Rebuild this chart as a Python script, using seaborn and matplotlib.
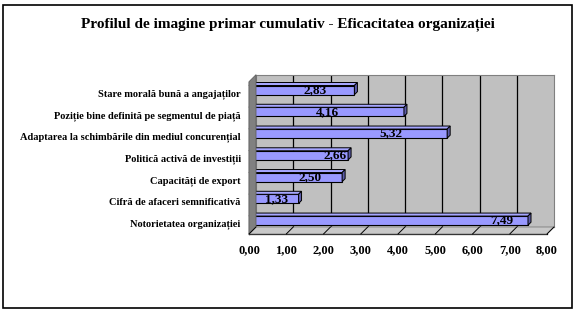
import matplotlib
matplotlib.use("Agg")
import matplotlib.pyplot as plt
import seaborn as sns
import pandas as pd
from matplotlib.patches import Polygon, Rectangle
from matplotlib.lines import Line2D

# ---- data ----
title = "Profilul de imagine primar cumulativ - Eficacitatea organizației"
categories = [
    "Stare morală bună a angajaților",
    "Poziție bine definită pe segmentul de piață",
    "Adaptarea la schimbările din mediul concurențial",
    "Politică activă de investiții",
    "Capacități de export",
    "Cifră de afaceri semnificativă",
    "Notorietatea organizației",
]
values = [2.83, 4.16, 5.32, 2.66, 2.50, 1.33, 7.49]
value_labels = ["2,83", "4,16", "5,32", "2,66", "2,50", "1,33", "7,49"]
x_ticks = [0, 1, 2, 3, 4, 5, 6, 7, 8]
x_tick_labels = ["0,00", "1,00", "2,00", "3,00", "4,00", "5,00", "6,00", "7,00", "8,00"]
# where Excel placed each value label along its bar (x, data units)
label_anchor = [1.77, 2.10, 3.82, 2.31, 1.64, 0.75, 6.80]

df = pd.DataFrame({"categorie": categories, "valoare": values})

sns.set_theme(style="white")
plt.rcParams["font.family"] = ["Liberation Serif", "DejaVu Serif"]
plt.rcParams["font.weight"] = "bold"

W, H = 576, 312
fig = plt.figure(figsize=(W / 100, H / 100), dpi=100)
fig.patch.set_facecolor("white")

# outer chart border
fig.add_artist(Rectangle((3 / W, 4 / H), 569 / W, 303 / H, transform=fig.transFigure,
                         fill=False, edgecolor="black", linewidth=1.2))

fig.text(0.5, 1 - 24 / H, title, ha="center", va="center",
         fontsize=11, fontweight="bold", color="black")

# front plane (in pixels)
Lp, Rp, Bp, Tp = 249, 547, H - 234, H - 81.7
D = 7  # 3D depth in pixels
L, R, B, T = Lp / W, Rp / W, Bp / H, Tp / H
dxf, dyf = D / W, D / H

# back wall
ax_wall = fig.add_axes([L + dxf, B + dyf, R - L, T - B])
ax_wall.set_facecolor("#C0C0C0")
ax_wall.set_xlim(0, 8)
ax_wall.set_ylim(0, 1)
for xv in x_ticks[1:-1]:
    ax_wall.axvline(xv, color="black", linewidth=0.9)
ax_wall.set_xticks([])
ax_wall.set_yticks([])
for s in ax_wall.spines.values():
    s.set_color("#808080")
    s.set_linewidth(0.8)

# side wall and floor
fig.add_artist(Polygon([(L, B), (L + dxf, B + dyf), (L + dxf, T + dyf), (L, T)],
                       closed=True, transform=fig.transFigure,
                       facecolor="#808080", edgecolor="#606060", linewidth=0.6))
fig.add_artist(Polygon([(L, B), (R, B), (R + dxf, B + dyf), (L + dxf, B + dyf)],
                       closed=True, transform=fig.transFigure,
                       facecolor="#C8C8C8", edgecolor="#808080", linewidth=0.6))
for xv in x_ticks:
    fx = L + (R - L) * xv / 8
    fig.add_artist(Line2D([fx, fx + dxf], [B, B + dyf], transform=fig.transFigure,
                          color="black", linewidth=0.7))

# main (front) axes
ax = fig.add_axes([L, B, R - L, T - B])
ax.set_facecolor("none")
sns.barplot(data=df, x="valoare", y="categorie", orient="h", color="#9999FF",
            saturation=1, edgecolor="black", linewidth=0.8, width=0.42, ax=ax,
            zorder=3)
ax.set_xlim(0, 8)
ax.set_ylim(len(categories) - 0.5, -0.5)

px_x = (Rp - Lp) / 8.0
px_y = (Tp - Bp) / len(categories)
bd = 3.0
ddx, ddy = bd / px_x, bd / px_y
shift = 2.5 / px_y

for i, p in enumerate(ax.patches):
    p.set_y(p.get_y() - shift)
    y0, h, v = p.get_y(), p.get_height(), p.get_width()
    ax.add_patch(Polygon([(0, y0), (v, y0), (v + ddx, y0 - ddy), (ddx, y0 - ddy)],
                         closed=True, facecolor="#A6A6FF", edgecolor="black",
                         linewidth=0.7, zorder=3, clip_on=False))
    ax.add_patch(Polygon([(v, y0), (v + ddx, y0 - ddy), (v + ddx, y0 + h - ddy), (v, y0 + h)],
                         closed=True, facecolor="#5C5CA8", edgecolor="black",
                         linewidth=0.7, zorder=3, clip_on=False))
    ax.text(label_anchor[i], y0 + h / 2, value_labels[i], ha="center", va="center",
            fontsize=9.5, fontweight="bold", color="black", zorder=5)

ax.set_xlabel("")
ax.set_ylabel("")
ax.set_xticks(x_ticks)
ax.set_xticklabels(x_tick_labels, fontsize=9, fontweight="bold")
ax.set_yticks(range(len(categories)))
ax.set_yticklabels(categories, fontsize=7.5, fontweight="bold")
ax.set_yticks([i - 0.5 for i in range(len(categories) + 1)], minor=True)
ax.tick_params(axis="y", which="major", length=0, pad=6, colors="black")
ax.tick_params(axis="y", which="minor", length=4, direction="out", color="black", width=0.8)
ax.tick_params(axis="x", which="major", length=3, direction="out", color="black",
               width=0.8, pad=4, colors="black")
ax.tick_params(axis="x", which="major", color="black")
for s in ["top", "right"]:
    ax.spines[s].set_visible(False)
for s in ["left", "bottom"]:
    ax.spines[s].set_color("black")
    ax.spines[s].set_linewidth(0.9)
ax.grid(False)

fig.savefig("out.png", dpi=100)
